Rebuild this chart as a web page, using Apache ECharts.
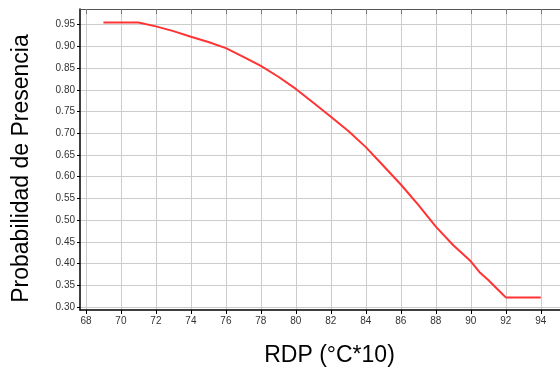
<!DOCTYPE html>
<html><head><meta charset="utf-8">
<script src="https://cdn.jsdelivr.net/npm/echarts@6/dist/echarts.min.js"></script>
<style>html,body{margin:0;padding:0;background:#fff}#c{width:560px;height:372px}</style>
</head><body><div id="c"></div>
<script>
const rdp = [69, 70, 71, 72, 73, 74, 75, 76, 77, 78, 79, 80, 81, 82, 83, 84, 85, 86, 87, 88, 89, 90, 90.5, 91, 91.5, 92, 93, 94];
const prob = [0.955, 0.955, 0.955, 0.946, 0.935, 0.922, 0.91, 0.896, 0.876, 0.855, 0.83, 0.802, 0.77, 0.738, 0.705, 0.668, 0.625, 0.582, 0.535, 0.485, 0.442, 0.405, 0.38, 0.362, 0.342, 0.322, 0.322, 0.322];
const xTicks = [68, 70, 72, 74, 76, 78, 80, 82, 84, 86, 88, 90, 92, 94];
const yTicks = [0.30, 0.35, 0.40, 0.45, 0.50, 0.55, 0.60, 0.65, 0.70, 0.75, 0.80, 0.85, 0.90, 0.95];

const chart = echarts.init(document.getElementById('c'));
const font = 'Liberation Sans, Arial, sans-serif';
chart.setOption({
  animation: false,
  grid: {left: 80, right: 0, top: 9, bottom: 61, containLabel: false},
  xAxis: [{
    type: 'value', min: 67.66, max: 95.1, position: 'bottom',
    name: 'RDP (°C*10)', nameLocation: 'middle', nameGap: 34,
    nameTextStyle: {fontFamily: font, fontSize: 23, color: '#000', padding: [0, 0, 0, 19]},
    axisLine: {show: true, onZero: false, lineStyle: {color: '#000', width: 1.5}},
    axisTick: {show: true, customValues: xTicks, length: 4, lineStyle: {color: '#000'}},
    axisLabel: {customValues: xTicks, fontFamily: font, fontSize: 10, color: '#333', margin: 6, formatter: v => String(Math.round(v))},
    splitLine: {show: true, lineStyle: {color: '#cccccc', width: 1}}
  }, {
    type: 'value', min: 67.66, max: 95.1, position: 'top',
    axisLine: {show: true, onZero: false, lineStyle: {color: '#555', width: 1}},
    axisTick: {show: true, inside: true, customValues: xTicks, length: 5, lineStyle: {color: '#777'}},
    axisLabel: {show: false, customValues: xTicks},
    splitLine: {show: false}
  }],
  yAxis: {
    type: 'value', min: 0.293, max: 0.986,
    name: 'Probabilidad de Presencia', nameLocation: 'middle', nameGap: 47,
    nameTextStyle: {fontFamily: font, fontSize: 23, color: '#000', padding: [0, 18, 0, 0]},
    axisLine: {show: true, onZero: false, lineStyle: {color: '#000', width: 1.5}},
    axisTick: {show: true, customValues: yTicks, length: 3, lineStyle: {color: '#000'}},
    axisLabel: {customValues: yTicks, fontFamily: font, fontSize: 10, color: '#333', margin: 5, formatter: v => v.toFixed(2)},
    splitLine: {show: true, lineStyle: {color: '#cccccc', width: 1}}
  },
  series: [{
    type: 'line', showSymbol: false, smooth: false,
    data: rdp.map((x, i) => [x, prob[i]]),
    lineStyle: {color: '#ff3333', width: 2}
  }]
});
</script></body></html>
